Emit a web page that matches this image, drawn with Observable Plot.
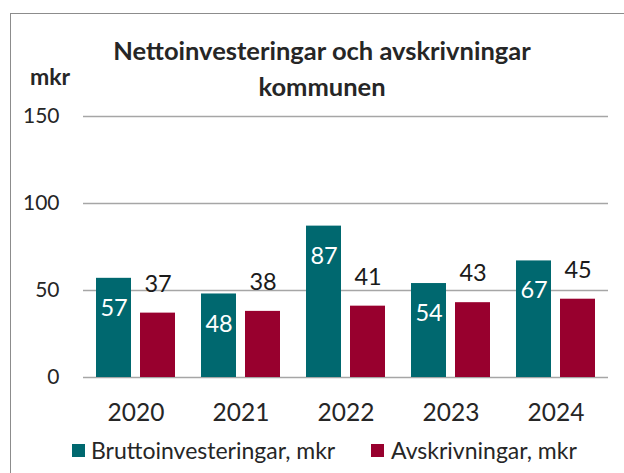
<!DOCTYPE html>
<html>
<head>
<meta charset="utf-8">
<script src="https://cdn.jsdelivr.net/npm/d3@7"></script>
<script src="https://cdn.jsdelivr.net/npm/@observablehq/plot@0.6"></script>
<style>
  html, body { margin: 0; padding: 0; background: #fff; }
  #wrap { position: relative; width: 624px; height: 473px; overflow: hidden; font-family: Lato, "Open Sans", sans-serif; color: #262626; }
  #frame { position: absolute; left: 10px; top: 13px; width: 700px; height: 600px; border: 1.5px solid #8c8c8c; }
  #title { position: absolute; left: 72px; width: 500px; top: 32px; text-align: center; font-weight: bold; font-size: 25.5px; line-height: 36px; }
  #unit { position: absolute; left: 30px; top: 63px; font-weight: bold; font-size: 23px; line-height: 26px; }
  #chart { position: absolute; left: 0; top: 0; }
  .leg { position: absolute; top: 437px; font-size: 23px; line-height: 26px; white-space: nowrap; }
  .sw { position: absolute; width: 13px; height: 13px; top: 444px; }
</style>
</head>
<body>
<div id="wrap">
  <div id="frame"></div>
  <div id="chart"></div>
  <div id="title">Nettoinvesteringar och avskrivningar<br>kommunen</div>
  <div id="unit">mkr</div>
  <div id="legend"></div>
</div>
<script>
const years = ["2020", "2021", "2022", "2023", "2024"];
const brutto = [57, 48, 87, 54, 67];
const avskrivningar = [37, 38, 41, 43, 45];
const seriesNames = ["Bruttoinvesteringar, mkr", "Avskrivningar, mkr"];
const seriesColors = ["#00686f", "#98002e"];
const yTicks = [0, 50, 100, 150];

const bruttoData = years.map((yr, i) => ({year: yr, series: seriesNames[0], value: brutto[i]}));
const avskrData = years.map((yr, i) => ({year: yr, series: seriesNames[1], value: avskrivningar[i]}));

const chart = Plot.plot({
  width: 624,
  height: 440,
  marginLeft: 83,
  marginRight: 16,
  marginTop: 116,
  marginBottom: 63,
  style: {fontFamily: "Lato, 'Open Sans', sans-serif", background: "transparent", color: "#262626"},
  x: {domain: years, paddingInner: 0.2476, paddingOuter: 0.1238, label: null},
  y: {domain: [0, 150], label: null},
  color: {domain: seriesNames, range: seriesColors},
  marks: [
    Plot.gridY(yTicks, {stroke: "#a6a6a6", strokeOpacity: 1, strokeWidth: 1.5}),
    Plot.axisY(yTicks, {tickSize: 0, tickPadding: 24, fontSize: 21, label: null}),
    Plot.axisX({tickSize: 0, tickPadding: 26, fontSize: 24.5, label: null}),
    Plot.barY(bruttoData, {x: "year", y: "value", fill: "series", insetRight: 44}),
    Plot.barY(avskrData, {x: "year", y: "value", fill: "series", insetLeft: 44}),
    Plot.text(bruttoData, {x: "year", y: "value", text: "value", dx: -22, dy: 30, fill: "white", fontSize: 23.5}),
    Plot.text(avskrData, {x: "year", y: "value", text: "value", dx: 22, dy: -29, fill: "#1a1a1a", fontSize: 23.5})
  ]
});
document.getElementById("chart").appendChild(chart);

const legend = document.getElementById("legend");
const legPos = [[72, 91], [371, 391]];
seriesNames.forEach((name, i) => {
  const sw = document.createElement("div");
  sw.className = "sw";
  sw.style.left = legPos[i][0] + "px";
  sw.style.background = seriesColors[i];
  legend.appendChild(sw);
  const t = document.createElement("div");
  t.className = "leg";
  t.style.left = legPos[i][1] + "px";
  t.textContent = name;
  legend.appendChild(t);
});
</script>
</body>
</html>
